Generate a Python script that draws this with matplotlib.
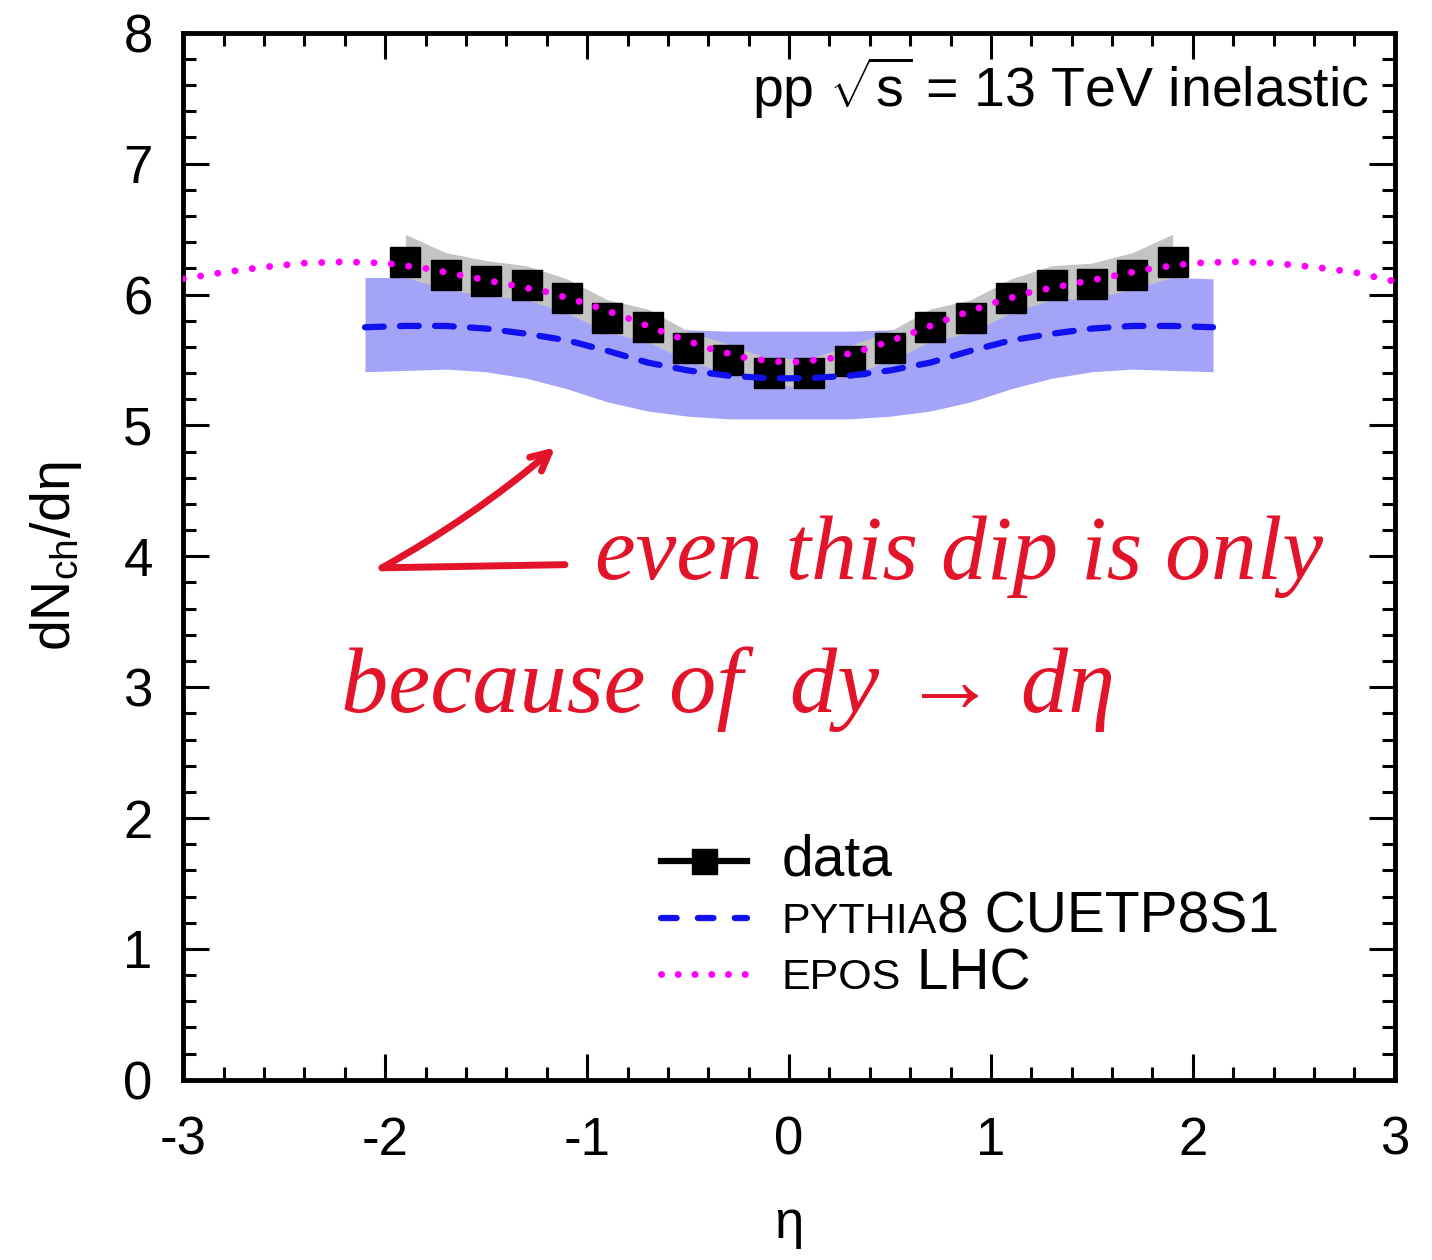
from matplotlib import pyplot as plt
from matplotlib.lines import Line2D
from matplotlib.offsetbox import AnchoredOffsetbox, DrawingArea, TextArea, HPacker, VPacker
import matplotlib
import numpy as np

matplotlib.rcParams['font.family'] = ['Liberation Sans', 'DejaVu Sans']
matplotlib.rcParams['mathtext.fontset'] = 'custom'
matplotlib.rcParams['mathtext.rm'] = 'Liberation Sans'
matplotlib.rcParams['mathtext.it'] = 'Liberation Sans:italic'
matplotlib.rcParams['axes.unicode_minus'] = False

# data points (dN/deta, pp 13 TeV)
eta_data = [-1.9, -1.7, -1.5, -1.3, -1.1, -0.9, -0.7, -0.5, -0.3, -0.1,
            0.1, 0.3, 0.5, 0.7, 0.9, 1.1, 1.3, 1.5, 1.7, 1.9]
dndeta = [6.25, 6.15, 6.10, 6.07, 5.97, 5.82, 5.75, 5.59, 5.50, 5.40,
          5.40, 5.49, 5.59, 5.75, 5.82, 5.97, 6.07, 6.08, 6.15, 6.25]
sys_up = [0.21, 0.17, 0.16, 0.15, 0.15, 0.14, 0.14, 0.13, 0.12, 0.11,
          0.11, 0.12, 0.13, 0.14, 0.14, 0.15, 0.15, 0.16, 0.17, 0.21]
sys_dn = [0.12, 0.11, 0.11, 0.11, 0.11, 0.11, 0.11, 0.10, 0.10, 0.10,
          0.10, 0.10, 0.10, 0.11, 0.11, 0.11, 0.11, 0.11, 0.11, 0.12]

# PYTHIA8 CUETP8S1 curve and uncertainty band
eta_py = [-2.1, -1.9, -1.7, -1.5, -1.3, -1.1, -0.9, -0.7, -0.5, -0.3, -0.1,
          0.1, 0.3, 0.5, 0.7, 0.9, 1.1, 1.3, 1.5, 1.7, 1.9, 2.1]
py_val = [5.75, 5.76, 5.76, 5.74, 5.70, 5.65, 5.57, 5.48, 5.42, 5.38, 5.36,
          5.36, 5.38, 5.42, 5.48, 5.57, 5.65, 5.70, 5.74, 5.76, 5.76, 5.75]
py_hi = [6.13, 6.13, 6.10, 6.05, 6.00, 5.93, 5.85, 5.78, 5.73, 5.72, 5.72,
         5.72, 5.72, 5.73, 5.78, 5.85, 5.93, 6.00, 6.05, 6.10, 6.13, 6.12]
py_lo = [5.41, 5.42, 5.43, 5.41, 5.36, 5.28, 5.18, 5.11, 5.07, 5.05, 5.05,
         5.05, 5.05, 5.07, 5.11, 5.18, 5.28, 5.36, 5.41, 5.43, 5.42, 5.41]

# EPOS LHC curve
eta_epos = [-3.0, -2.8, -2.6, -2.4, -2.2, -2.0, -1.8, -1.6, -1.4, -1.2, -1.0,
            -0.8, -0.6, -0.4, -0.2, 0.0, 0.2, 0.4, 0.6, 0.8, 1.0,
            1.2, 1.4, 1.6, 1.8, 2.0, 2.2, 2.4, 2.6, 2.8, 3.0]
epos_val = [6.12, 6.17, 6.21, 6.24, 6.25, 6.24, 6.20, 6.14, 6.08, 6.02, 5.93,
            5.82, 5.70, 5.59, 5.51, 5.48, 5.51, 5.59, 5.70, 5.82, 5.93,
            6.02, 6.08, 6.14, 6.20, 6.24, 6.25, 6.24, 6.21, 6.17, 6.10]

red = '#e3142a'
blue_band = '#a3a3f7'

fig = plt.figure(figsize=(14.32, 12.6), dpi=100)
ax = fig.add_axes([0.128, 0.143, 0.846, 0.831])

ax.fill_between(eta_py, py_lo, py_hi, color=blue_band, lw=0, zorder=1)
d = np.array(dndeta)
ax.fill_between(eta_data, d - np.array(sys_dn), d + np.array(sys_up),
                color='#c4c4c4', lw=0, zorder=2)
ax.plot(eta_data, dndeta, ls='none', marker='s', ms=22, color='black', zorder=3)
ax.plot(eta_py, py_val, color='#1010f0', lw=4.5, dashes=(3, 2.6),
        dash_capstyle='round', zorder=4)
ax.plot(eta_epos, epos_val, color='#ff00ff', lw=5, dashes=(0.01, 2.5),
        dash_capstyle='round', zorder=5)

ax.set_xlim(-3, 3)
ax.set_ylim(0, 8)
ax.set_xticks(range(-3, 4))
ax.set_yticks(range(0, 9))
ax.xaxis.set_minor_locator(matplotlib.ticker.MultipleLocator(0.2))
ax.yaxis.set_minor_locator(matplotlib.ticker.MultipleLocator(0.2))
ax.tick_params(which='both', direction='in', top=True, right=True, width=2.2)
ax.tick_params(which='major', length=19, labelsize=38)
ax.tick_params(which='minor', length=9.5)
ax.tick_params(axis='x', which='major', pad=26)
ax.tick_params(axis='y', which='major', pad=22)
for sp in ax.spines.values():
    sp.set_linewidth(3.5)

ax.set_xlabel('η', fontsize=38, labelpad=24)
ax.set_ylabel(r'dN$_{\mathrm{ch}}$/dη', fontsize=40, labelpad=28)

ax.text(0.979, 0.929, r'pp $\sqrt{\mathrm{s}}$ = 13 TeV inelastic', transform=ax.transAxes,
        ha='right', va='baseline', fontsize=40)

# legend with small caps generator names
def handle(**kw):
    da = DrawingArea(62, 20, 0, 0)
    da.add_artist(Line2D([0, 62], [10, 10], **kw))
    return da

def label(small, big):
    parts = []
    if small:
        parts.append(TextArea(small, textprops=dict(fontsize=31)))
    parts.append(TextArea(big, textprops=dict(fontsize=41)))
    return HPacker(children=parts, align='baseline', pad=0, sep=0)

data_handle = handle(color='black', lw=4.5)
data_handle.add_artist(Line2D([31], [10], color='black', marker='s', ms=18, ls='none'))
rows = [
    HPacker(children=[data_handle, label('', 'data')], align='center', pad=0, sep=25),
    HPacker(children=[handle(color='#1010f0', lw=4.5, dashes=(2.5, 3.4), dash_capstyle='round'),
                      label('PYTHIA', '8 CUETP8S1')], align='center', pad=0, sep=25),
    HPacker(children=[handle(color='#ff00ff', lw=5, dashes=(0.01, 2.4), dash_capstyle='round'),
                      label('EPOS', ' LHC')], align='center', pad=0, sep=25),
]
box = VPacker(children=rows, align='left', pad=0, sep=2)
ab = AnchoredOffsetbox(loc='lower left', child=box, pad=0, borderpad=0, frameon=False,
                       bbox_to_anchor=(0.394, 0.075), bbox_transform=ax.transAxes)
ax.add_artist(ab)

# handwritten annotation
ax.annotate('', xy=(0.164, 0.489), xytext=(0.315, 0.492), xycoords='axes fraction',
            arrowprops=dict(arrowstyle='-', color=red, lw=5, shrinkA=0, shrinkB=0))
ax.annotate('', xy=(0.307, 0.604), xytext=(0.164, 0.489), xycoords='axes fraction',
            arrowprops=dict(arrowstyle='->,head_length=1.3,head_width=0.65', color=red, lw=5,
                            shrinkA=0, shrinkB=0, connectionstyle='arc3,rad=0.05'))
ax.text(0.340, 0.478, 'even this dip is only', transform=ax.transAxes, color=red,
        fontsize=66, family='Liberation Serif', style='italic', va='baseline')
ax.text(0.130, 0.351, 'because of  dy → dη', transform=ax.transAxes, color=red,
        fontsize=68, family=['Liberation Serif', 'DejaVu Serif'], style='italic', va='baseline')

plt.savefig('out.png', dpi=100)
